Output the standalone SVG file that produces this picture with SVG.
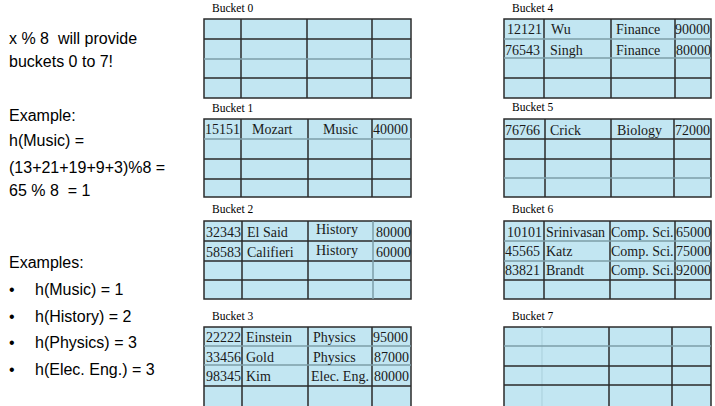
<svg xmlns="http://www.w3.org/2000/svg" width="715" height="406" viewBox="0 0 715 406">
<style>
.bg{fill:#c2e6f2;stroke:#2b2b2b;stroke-width:1.5}
.g{stroke:#2b2b2b;stroke-width:1.5;fill:none}
.l{stroke:#7d9ea8;stroke-width:1.5;fill:none}
.f{stroke:#a9cfdb;stroke-width:1;fill:none}
.lbl{font-family:"Liberation Serif",serif;font-size:11.5px;fill:#000}
.t{font-family:"Liberation Serif",serif;font-size:14px;fill:#1a1a1a}
.s{font-family:"Liberation Sans",Arial,sans-serif;font-size:16px;fill:#000;white-space:pre}
</style>
<rect width="715" height="406" fill="#fff"/>
<g id="notes">
<text class="s" x="9" y="44" xml:space="preserve">x % 8  will provide</text>
<text class="s" x="9" y="67">buckets 0 to 7!</text>
<text class="s" x="9" y="121">Example:</text>
<text class="s" x="9" y="146">h(Music) =</text>
<text class="s" x="9" y="173">(13+21+19+9+3)%8 =</text>
<text class="s" x="9" y="196" xml:space="preserve">65 % 8  = 1</text>
<text class="s" x="9" y="268">Examples:</text>
<text class="s" x="9" y="295">•</text><text class="s" x="35" y="295">h(Music) = 1</text>
<text class="s" x="9" y="322">•</text><text class="s" x="35" y="322">h(History) = 2</text>
<text class="s" x="9" y="348">•</text><text class="s" x="35" y="348">h(Physics) = 3</text>
<text class="s" x="9" y="375">•</text><text class="s" x="35" y="375">h(Elec. Eng.) = 3</text>
</g>
<g id="bucket0">
<text class="lbl" x="212" y="12">Bucket 0</text>
<rect class="bg" x="204" y="19" width="207" height="79"/>
<path class="g" d="M204 39H411M204 78H411M241 19V98M307 19V98M372 19V98"/>
<path class="l" d="M204 59H411"/>
</g>
<g id="bucket1">
<text class="lbl" x="212" y="112">Bucket 1</text>
<rect class="bg" x="204" y="119" width="207" height="78"/>
<path class="g" d="M204 159H411M204 179H411M241 119V197M308 119V197M372 119V197"/>
<path class="l" d="M204 139H411"/>
<text class="t" x="205" y="134">15151</text><text class="t" x="252" y="134">Mozart</text><text class="t" x="323" y="134">Music</text><text class="t" x="373" y="134">40000</text>
</g>
<g id="bucket2">
<text class="lbl" x="212" y="213">Bucket 2</text>
<rect class="bg" x="204" y="221" width="207" height="78"/>
<path class="g" d="M204 241H411M204 261H411M204 280H411M242 221V299M308 221V299"/>
<path class="l" d="M373 221V299"/>
<text class="t" x="206" y="237">32343</text><text class="t" x="247" y="237">El Said</text><text class="t" x="316" y="234">History</text><text class="t" x="376" y="237">80000</text>
<text class="t" x="206" y="257">58583</text><text class="t" x="247" y="257">Califieri</text><text class="t" x="316" y="255">History</text><text class="t" x="376" y="257">60000</text>
</g>
<g id="bucket3">
<text class="lbl" x="212" y="320">Bucket 3</text>
<rect class="bg" x="204" y="327" width="207" height="82"/>
<path class="g" d="M204 386H411M242 327V406M308 327V406M372 327V406"/>
<path class="l" d="M204 346H411M204 365H411"/>
<text class="t" x="206" y="342">22222</text><text class="t" x="246" y="342">Einstein</text><text class="t" x="313" y="342">Physics</text><text class="t" x="373" y="342">95000</text>
<text class="t" x="206" y="362">33456</text><text class="t" x="246" y="362">Gold</text><text class="t" x="313" y="362">Physics</text><text class="t" x="374" y="362">87000</text>
<text class="t" x="206" y="381">98345</text><text class="t" x="246" y="381">Kim</text><text class="t" x="311" y="381">Elec. Eng.</text><text class="t" x="374" y="381">80000</text>
</g>
<g id="bucket4">
<text class="lbl" x="512" y="12">Bucket 4</text>
<rect class="bg" x="504" y="19" width="207" height="79"/>
<path class="g" d="M504 78H711M544 19V98M611 19V98M675 19V98"/>
<path class="l" d="M504 39H711M504 58H711"/>
<text class="t" x="507" y="34">12121</text><text class="t" x="551" y="34">Wu</text><text class="t" x="616" y="34">Finance</text><text class="t" x="675" y="34">90000</text>
<text class="t" x="505" y="55">76543</text><text class="t" x="550" y="55">Singh</text><text class="t" x="616" y="55">Finance</text><text class="t" x="676" y="55">80000</text>
</g>
<g id="bucket5">
<text class="lbl" x="512" y="111">Bucket 5</text>
<rect class="bg" x="504" y="119" width="207" height="78"/>
<path class="g" d="M504 139H711M504 159H711M545 119V197M611 119V197M674 119V197"/>
<path class="l" d="M504 178H711"/>
<text class="t" x="505" y="135">76766</text><text class="t" x="550" y="135">Crick</text><text class="t" x="617" y="135">Biology</text><text class="t" x="675" y="135">72000</text>
</g>
<g id="bucket6">
<text class="lbl" x="512" y="213">Bucket 6</text>
<rect class="bg" x="504" y="221" width="207" height="78"/>
<path class="g" d="M504 280H711M544 221V299M610 221V299M675 221V299"/>
<path class="l" d="M504 241H711M504 261H711"/>
<text class="t" x="507" y="237">10101</text><text class="t" x="546" y="237">Srinivasan</text><text class="t" x="611" y="237">Comp. Sci.</text><text class="t" x="676" y="237">65000</text>
<text class="t" x="505" y="256">45565</text><text class="t" x="546" y="256">Katz</text><text class="t" x="611" y="256">Comp. Sci.</text><text class="t" x="676" y="256">75000</text>
<text class="t" x="505" y="275">83821</text><text class="t" x="546" y="275">Brandt</text><text class="t" x="611" y="275">Comp. Sci.</text><text class="t" x="676" y="275">92000</text>
</g>
<g id="bucket7">
<text class="lbl" x="512" y="320">Bucket 7</text>
<rect class="bg" x="504" y="327" width="207" height="82"/>
<path class="f" d="M542 327V406"/>
<path class="g" d="M504 366H711M504 385H711M609 327V406M672 327V406"/>
<path class="l" d="M504 346H711"/>
</g>
</svg>
